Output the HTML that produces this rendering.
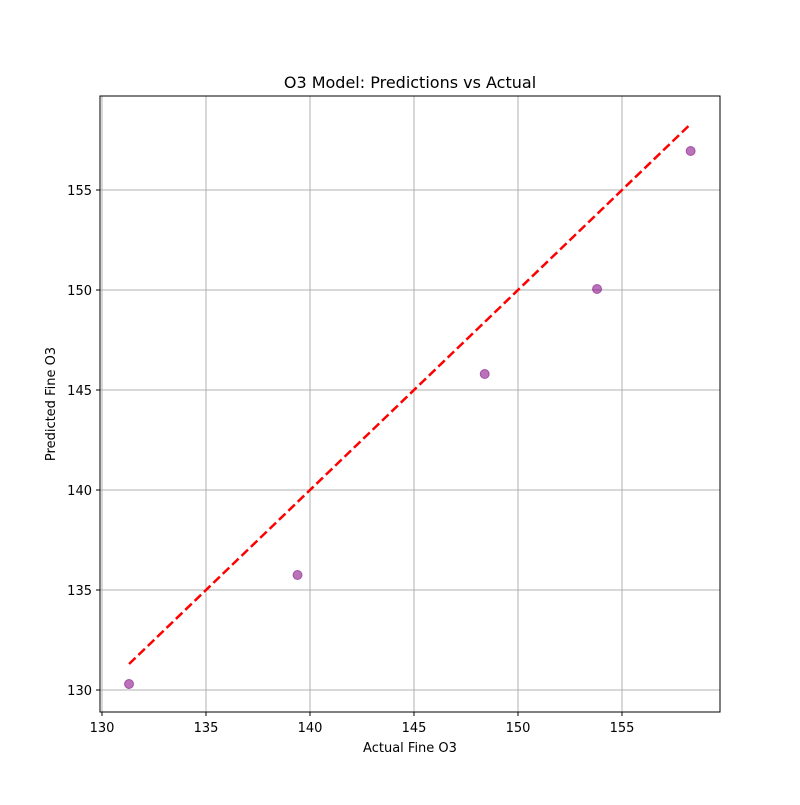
<!DOCTYPE html>
<html><head><meta charset="utf-8"><style>
body{margin:0;background:#fff}
text{font-family:"DejaVu Sans","Liberation Sans",sans-serif;fill:#000}
</style></head><body>
<svg id="chart" width="800" height="800" xmlns="http://www.w3.org/2000/svg">
<rect width="800" height="800" fill="#fff"/>
<text x="410" y="88" text-anchor="middle" font-size="16">O3 Model: Predictions vs Actual</text>
<g id="grid"></g>
<g id="ideal"></g>
<g id="pts"></g>
<rect x="100" y="96" width="620" height="616" fill="none" stroke="#000" stroke-width="1"/>
<g id="ticks"></g>
<text x="410" y="752" text-anchor="middle" font-size="13">Actual Fine O3</text>
<text transform="translate(55,404) rotate(-90)" text-anchor="middle" font-size="13">Predicted Fine O3</text>
</svg>
<script>
const actual=[131.3,139.4,148.4,153.8,158.3];
const predicted=[130.3,135.75,145.8,150.05,156.95];
const xTicks=[130,135,140,145,150,155];
const yTicks=[130,135,140,145,150,155];
const NS="http://www.w3.org/2000/svg";
const X=v=>102+(v-130)*20.8;
const Y=v=>690-(v-130)*20;
function mk(t,a,p){const e=document.createElementNS(NS,t);for(const k in a)e.setAttribute(k,a[k]);p.appendChild(e);return e;}
const grid=document.getElementById('grid'),ticks=document.getElementById('ticks');
xTicks.forEach(v=>{
 const g=mk('line',{x1:X(v),x2:X(v),y1:96,y2:712,stroke:'#b0b0b0','stroke-width':1},grid);
 
 
 const t=mk('line',{x1:X(v),x2:X(v),y1:712,y2:716,stroke:'#000'},ticks);
 
 
 const l=mk('text',{x:X(v),y:732,'text-anchor':'middle','font-size':13},ticks);
 l.textContent=v;
 
 
});
yTicks.forEach(v=>{
 const g=mk('line',{x1:100,x2:720,y1:Y(v),y2:Y(v),stroke:'#b0b0b0','stroke-width':1},grid);
 
 
 const t=mk('line',{x1:96,x2:100,y1:Y(v),y2:Y(v),stroke:'#000'},ticks);
 
 
 const l=mk('text',{x:92,y:Y(v)+5,'text-anchor':'end','font-size':13},ticks);
 l.textContent=v;
 
 
});
const mn=Math.min(...actual),mx=Math.max(...actual);
const ln=mk('line',{x1:X(mn),y1:Y(mn),x2:X(mx),y2:Y(mx),stroke:'#ff0000','stroke-width':2.5,'stroke-dasharray':'9,4'},document.getElementById('ideal'));


actual.forEach((a,i)=>{
 const c=mk('circle',{cx:X(a),cy:Y(predicted[i]),r:4.5,fill:'rgba(128,0,128,0.55)',stroke:'rgba(128,0,128,0.55)','stroke-width':1},document.getElementById('pts'));
 
 
});
</script>
</body></html>
